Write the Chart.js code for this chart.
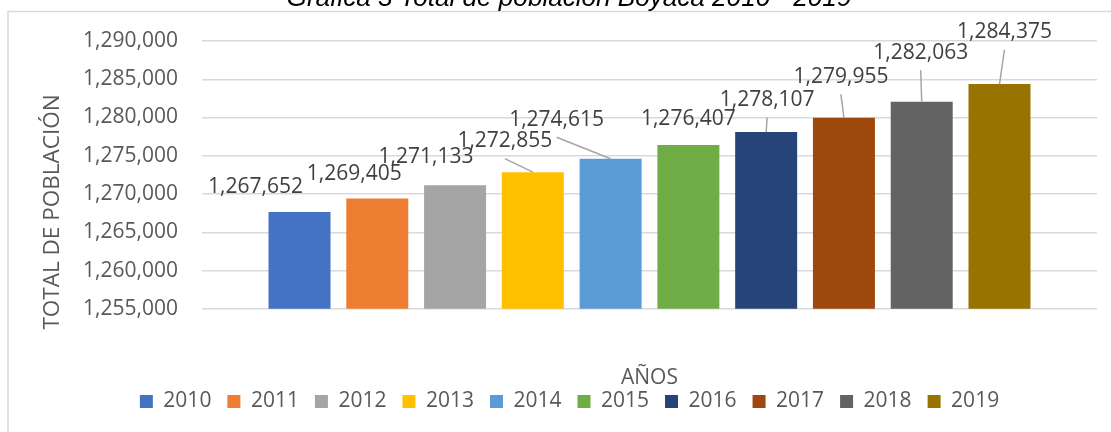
<!DOCTYPE html>
<html>
<head>
<meta charset="utf-8">
<script src="https://cdn.jsdelivr.net/npm/chart.js@4.4.1/dist/chart.umd.min.js"></script>
<style>
  html, body { margin: 0; padding: 0; background: #fff; }
  canvas { display: block; }
</style>
</head>
<body>
<canvas id="popChart" width="1111" height="432"></canvas>
<script>
const years = ["2010", "2011", "2012", "2013", "2014", "2015", "2016", "2017", "2018", "2019"];
const population = [1267652, 1269405, 1271133, 1272855, 1274615, 1276407, 1278107, 1279955, 1282063, 1284375];
const barColors = ["#4472C4", "#ED7D31", "#A5A5A5", "#FFC000", "#5B9BD5", "#70AD47", "#264478", "#9E480E", "#636363", "#997300"];
const yMin = 1255000;
const yMax = 1290000;
const yStep = 5000;
const chartTitle = "Gráfica 3 Total de población Boyacá 2010 - 2019";
const yTitle = "TOTAL DE POBLACIÓN";
const xTitle = "AÑOS";

// Excel moved the data labels around by hand; offset from the top of each bar
const labelNudge = [[-44, -25], [-23, -25], [-29, -28], [-28, -31], [-54, -39], [0, -26], [1, -32], [-3, -41], [-1, -49], [5, -52]];
const hasLeader = [false, false, false, true, true, false, true, true, true, true];

const fmt = v => v.toLocaleString("en-US");
const baseFont = { family: "'Open Sans'", size: 21 };

const decor = {
  id: "decor",
  beforeDraw(chart) {
    const ctx = chart.ctx;
    ctx.save();
    ctx.fillStyle = "#fff";
    ctx.fillRect(0, 0, chart.width, chart.height);

    // chart frame (only top and left edges are in view)
    ctx.strokeStyle = "#d9d9d9";
    ctx.lineWidth = 1.5;
    ctx.beginPath();
    ctx.moveTo(8, chart.height);
    ctx.lineTo(8, 11.5);
    ctx.lineTo(chart.width, 11.5);
    ctx.stroke();

    // caption, cut off by the top edge
    ctx.font = "italic 24px 'Liberation Sans'";
    const size = 24 * 565 / ctx.measureText(chartTitle).width;
    ctx.font = "italic " + size.toFixed(1) + "px 'Liberation Sans'";
    ctx.fillStyle = "#000";
    ctx.textAlign = "center";
    ctx.textBaseline = "alphabetic";
    ctx.fillText(chartTitle, 569, 6);

    // y axis title
    ctx.translate(53, 212);
    ctx.rotate(-Math.PI / 2);
    ctx.font = "22.5px 'Open Sans'";
    ctx.fillStyle = "#595959";
    ctx.textBaseline = "middle";
    ctx.fillText(yTitle, 0, 0);
    ctx.restore();
  },
  afterDatasetsDraw(chart) {
    const ctx = chart.ctx;
    ctx.save();
    ctx.font = "21px 'Open Sans'";
    ctx.textAlign = "center";
    ctx.textBaseline = "middle";
    chart.data.datasets.forEach((ds, i) => {
      const bar = chart.getDatasetMeta(i).data[0];
      const lx = bar.x + labelNudge[i][0];
      const ly = bar.y + labelNudge[i][1];
      if (hasLeader[i]) {
        ctx.strokeStyle = "#a6a6a6";
        ctx.lineWidth = 1.5;
        ctx.beginPath();
        ctx.moveTo(lx, ly + 17.5);
        ctx.lineTo(bar.x, bar.y);
        ctx.stroke();
      }
      ctx.fillStyle = "#404040";
      ctx.fillText(fmt(ds.data[0]), lx, ly);
    });
    ctx.restore();
  }
};

new Chart(document.getElementById("popChart"), {
  type: "bar",
  data: {
    labels: [""],
    datasets: years.map((y, i) => ({
      label: y,
      data: [population[i]],
      backgroundColor: barColors[i],
      categoryPercentage: 0.869,
      barPercentage: 0.797
    }))
  },
  options: {
    responsive: false,
    animation: false,
    layout: { padding: { left: 42, right: 14, top: 41, bottom: 10 } },
    plugins: {
      legend: {
        position: "bottom",
        labels: { boxWidth: 13, boxHeight: 13, padding: 16, color: "#595959", font: baseFont }
      },
      tooltip: { enabled: false }
    },
    scales: {
      x: {
        ticks: { display: false },
        grid: { display: false },
        border: { display: false },
        title: { display: true, text: xTitle, color: "#595959", font: baseFont, padding: { top: 49, bottom: -16 } }
      },
      y: {
        min: yMin,
        max: yMax,
        ticks: { stepSize: yStep, padding: 24, color: "#595959", font: baseFont, callback: v => fmt(v) },
        grid: { color: "#d9d9d9", lineWidth: 1.5, drawTicks: false },
        border: { display: false },
        afterFit: s => { s.width = 160; }
      }
    }
  },
  plugins: [decor]
});
</script>
</body>
</html>
